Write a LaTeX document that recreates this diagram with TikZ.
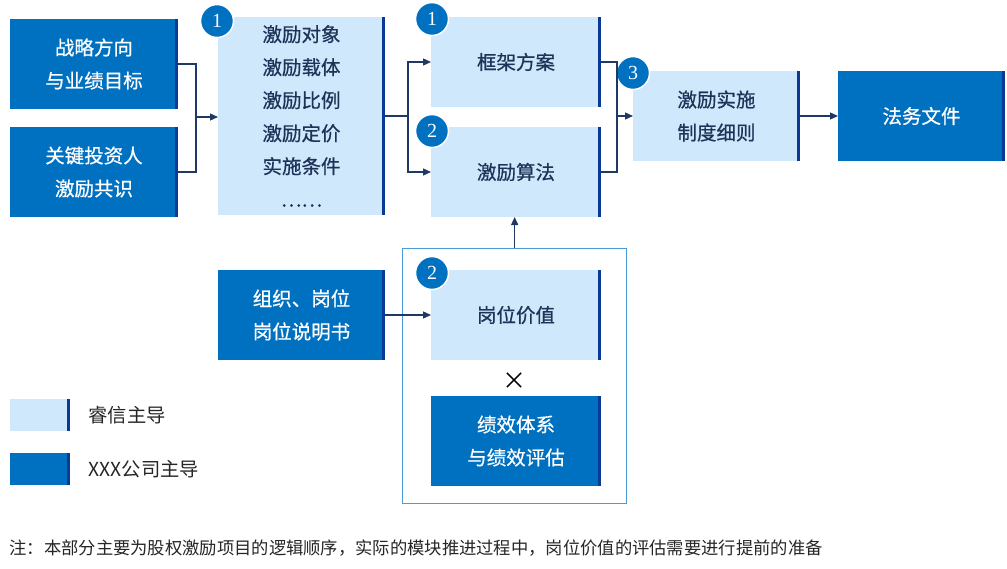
\documentclass[tikz,border=0pt]{standalone}
\usepackage{fontspec}
\setmainfont{Liberation Serif}
\newfontfamily\cjk{Noto Sans CJK SC}
\newfontfamily\cjkb[FakeBold=0.6]{Noto Sans CJK SC}
\usetikzlibrary{arrows.meta,calc}
\definecolor{dk}{HTML}{0070C0}
\definecolor{lt}{HTML}{CFE8FC}
\definecolor{barc}{HTML}{0B3A96}
\definecolor{txt}{HTML}{1F3358}
\definecolor{ln}{HTML}{1F3864}
\definecolor{fr}{HTML}{4A9BD8}
\begin{document}
\begin{tikzpicture}[x=1pt,y=-1pt,
  box/.style={anchor=north west,inner sep=0pt,outer sep=0pt,align=center,
    font=\cjkb\fontsize{19.5}{33}\selectfont},
  dark/.style={box,fill=dk,text=white},
  light/.style={box,fill=lt,text=txt},
  wh/.style 2 args={minimum width=#1,minimum height=#2},
  circ/.style={circle,fill=dk,draw=white,line width=1.5pt,minimum size=33pt,inner sep=0pt,
    text=white,font=\fontsize{20}{20}\selectfont},
  conn/.style={draw=ln,line width=1.3pt},
  arr/.style={conn,-{Triangle[length=8pt,width=7pt]}},
  lgtext/.style={anchor=west,text=black!85,font=\cjk\fontsize{19.3}{20}\selectfont}
]
\fill[white] (0,0) rectangle (1007,568);
\useasboundingbox (0,0) rectangle (1007,568);

% boxes
\node[dark,wh={168}{90}] (s1) at (10,19) {战略方向\\与业绩目标};
\node[dark,wh={168}{90}] (s2) at (10,127) {关键投资人\\激励共识};
\node[light,wh={167}{198}] (n1) at (218,17) {激励对象\\激励载体\\激励比例\\激励定价\\实施条件\\……};
\node[light,wh={170}{90}] (k1) at (431,17) {框架方案};
\node[light,wh={170}{90}] (k2) at (431,127) {激励算法};
\node[light,wh={167}{90}] (k3) at (633,71) {激励实施\\制度细则};
\node[dark,wh={167}{90}] (law) at (838,71) {法务文件};
\node[dark,wh={167}{90}] (org) at (218,270) {组织、岗位\\岗位说明书};
\node[light,wh={170}{90}] (pv) at (431,270) {岗位价值};
\node[dark,wh={170}{90}] (perf) at (431,396) {绩效体系\\与绩效评估};
\node[font=\cjk\fontsize{24}{24}\selectfont,text=black] (times) at (514,381) {×};
\node[draw=fr,line width=1.3pt,anchor=north west,inner sep=0pt,wh={224}{255}] (frame) at (402,248) {};

% legend
\node[light,wh={60}{32}] (lg1) at (10,399) {};
\node[dark,wh={60}{32}] (lg2) at (10,453) {};
\node[lgtext] (lt1) at (85,415) {睿信主导};
\node[lgtext] (lt2) at (85,469) {XXX公司主导};

% right bars
\foreach \n in {s1,s2,n1,k1,k2,k3,law,org,pv,perf,lg1,lg2}
  \fill[barc] ([xshift=-3.5pt]\n.north east) rectangle (\n.south east);

% circles
\node[circ] (c1) at (217,21) {1};
\node[circ] (c2) at (432,19) {1};
\node[circ] (c3) at (432,131) {2};
\node[circ] (c4) at (633,73) {3};
\node[circ] (c5) at (432,273) {2};

% connectors
\coordinate (j1) at (196,117);
\draw[conn] (s1.east) -| (j1);
\draw[conn] (s2.east) -| (j1);
\draw[arr] (j1) -- (j1 -| n1.west);
\coordinate (j2) at (408,116);
\draw[conn] (n1.east |- j2) -- (j2);
\draw[arr] (j2) |- (k1.west);
\draw[arr] (j2) |- (k2.west);
\coordinate (j3) at (617,116);
\draw[conn] (k1.east) -| (j3);
\draw[conn] (k2.east) -| (j3);
\draw[arr] (j3) -- (j3 -| k3.west);
\draw[arr] (k3.east) -- (law.west);
\draw[arr] (frame.north) -- (frame.north |- k2.south);
\draw[arr] (org.east) -- (org.east -| pv.west);

% note
\node[anchor=west,text=black!85,font=\cjk\fontsize{17.3}{18}\selectfont] (note) at (6,548)
  {注：本部分主要为股权激励项目的逻辑顺序，实际的模块推进过程中，岗位价值的评估需要进行提前的准备};
\end{tikzpicture}
\end{document}
